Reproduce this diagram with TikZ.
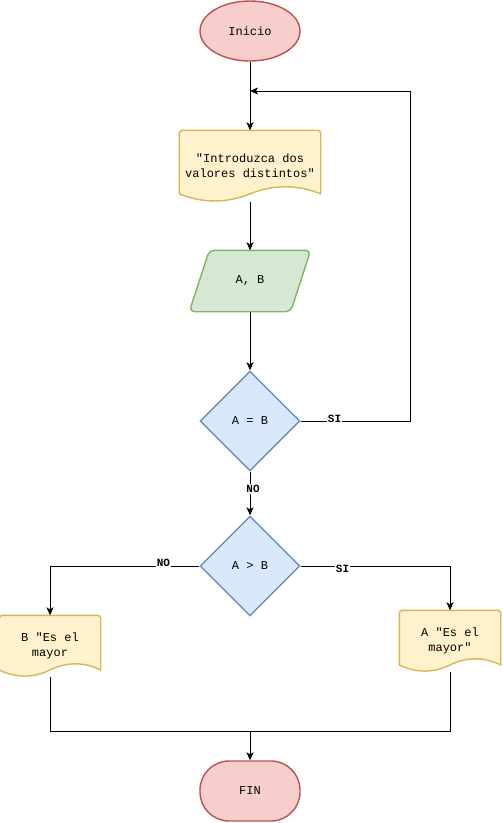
\documentclass[tikz,border=0pt]{standalone}
\usepackage{fontspec}
\setmonofont{Liberation Mono}
\usetikzlibrary{arrows.meta,shapes.geometric,calc,backgrounds}

\definecolor{termfill}{HTML}{F8CECC}
\definecolor{termline}{HTML}{B85450}
\definecolor{docfill}{HTML}{FFF2CC}
\definecolor{docline}{HTML}{D6B656}
\definecolor{iofill}{HTML}{D5E8D4}
\definecolor{ioline}{HTML}{82B366}
\definecolor{decfill}{HTML}{DAE8FC}
\definecolor{decline}{HTML}{6C8EBF}

\tikzset{
  base/.style={font=\ttfamily\fontsize{12}{15}\selectfont, align=center, inner sep=0pt, line width=1.4pt},
  terminal/.style={base, ellipse, draw=termline, fill=termfill, minimum width=100pt, minimum height=60pt},
  endbox/.style={base, rectangle, rounded corners=29pt, draw=termline, fill=termfill, minimum width=100pt, minimum height=60pt},
  decision/.style={base, diamond, draw=decline, fill=decfill, minimum width=100pt, minimum height=100pt},
  docbox/.style={base, rectangle},
  iobox/.style={base, rectangle, minimum width=120pt, minimum height=60pt},
  docstyle/.style={line width=1.4pt, draw=docline, fill=docfill},
  iostyle/.style={line width=1.4pt, draw=ioline, fill=iofill, rounded corners=5pt},
  link/.style={line width=1pt},
  flow/.style={link, -{Stealth[length=8pt,width=7pt,inset=2pt]}},
  lbl/.style={font=\ttfamily\fontsize{11}{13}\bfseries\selectfont, fill=white, inner sep=1pt},
}

% wavy-bottom document outline behind a rectangular node
\newcommand\docoutline[1]{%
  \begin{scope}[on background layer]
    \filldraw[docstyle] let \p1=(#1.north west), \p2=(#1.south east),
        \n1={\y1-\y2}, \n2={\x2-\x1} in
      (\x1,{\y2+0.11*\n1}) [rounded corners=3pt] -- (\x1,\y1) -- (\x2,\y1) [sharp corners]
      -- (\x2,{\y2+0.11*\n1})
      .. controls ({\x2-\n2/6},{\y2+0.243*\n1}) and ({\x2-\n2/3},{\y2+0.243*\n1})
      .. ({\x1+\n2/2},{\y2+0.11*\n1})
      .. controls ({\x1+\n2/3},{\y2-0.023*\n1}) and ({\x1+\n2/6},{\y2-0.023*\n1})
      .. (\x1,{\y2+0.11*\n1}) -- cycle;
  \end{scope}}

% slanted input/output outline behind a rectangular node
\newcommand\iooutline[1]{%
  \begin{scope}[on background layer]
    \filldraw[iostyle] let \p1=(#1.north west), \p2=(#1.south east) in
      ({\x1+20pt},\y1) -- (\x2,\y1) -- ({\x2-20pt},\y2) -- (\x1,\y2) -- cycle;
  \end{scope}}

\begin{document}
\begin{tikzpicture}[x=1pt,y=-1pt]
  \useasboundingbox (0,0) rectangle (503,823);

  % nodes
  \node[terminal] (ini) at (250,31) {Inicio};
  \node[docbox, minimum width=140pt, minimum height=70pt] (msg) at (250,166)
       {"Introduzca dos\\valores distintos"};
  \docoutline{msg}
  \node[iobox] (read) at (250,281) {A, B};
  \iooutline{read}
  \node[decision] (eq) at (250,421) {A = B};
  \node[decision] (gt) at (250,566) {A > B};
  \node[docbox, minimum width=100pt, minimum height=60pt] (bmax) at (50,646)
       {B "Es el\\mayor};
  \docoutline{bmax}
  \node[docbox, minimum width=100pt, minimum height=60pt] (amax) at (450,641)
       {A "Es el\\mayor"};
  \docoutline{amax}
  \node[endbox] (fin) at (250,791) {FIN};

  % helper points for the bends
  \coordinate (loopdown) at (410,421);
  \coordinate (loopup)   at (410,91);
  \coordinate (loopback) at (250,91);
  \coordinate (noturn)   at (50,566);
  \coordinate (siturn)   at (450,566);
  \coordinate (merge)    at (250,731);

  % connectors
  \draw[flow] (ini) -- (msg);
  \draw[flow] (msg) -- (read);
  \draw[flow] (read) -- (eq);
  \draw[flow] (eq.east) -- node[lbl, pos=0.31, yshift=2pt]{SI} (loopdown) -- (loopup) -- (loopback);
  \draw[flow] (eq) -- node[lbl, pos=0.4, xshift=3pt]{NO} (gt);
  \draw[flow] (gt.west) -- node[lbl, pos=0.24, yshift=3pt]{NO} (noturn) -- (bmax.north);
  \draw[flow] (gt.east) -- node[lbl, pos=0.28, yshift=-3pt]{SI} (siturn) -- (amax.north);
  \draw[link] (bmax.south) |- (merge);
  \draw[link] (amax.south) |- (merge);
  \draw[flow] (merge) -- (fin);
\end{tikzpicture}
\end{document}
